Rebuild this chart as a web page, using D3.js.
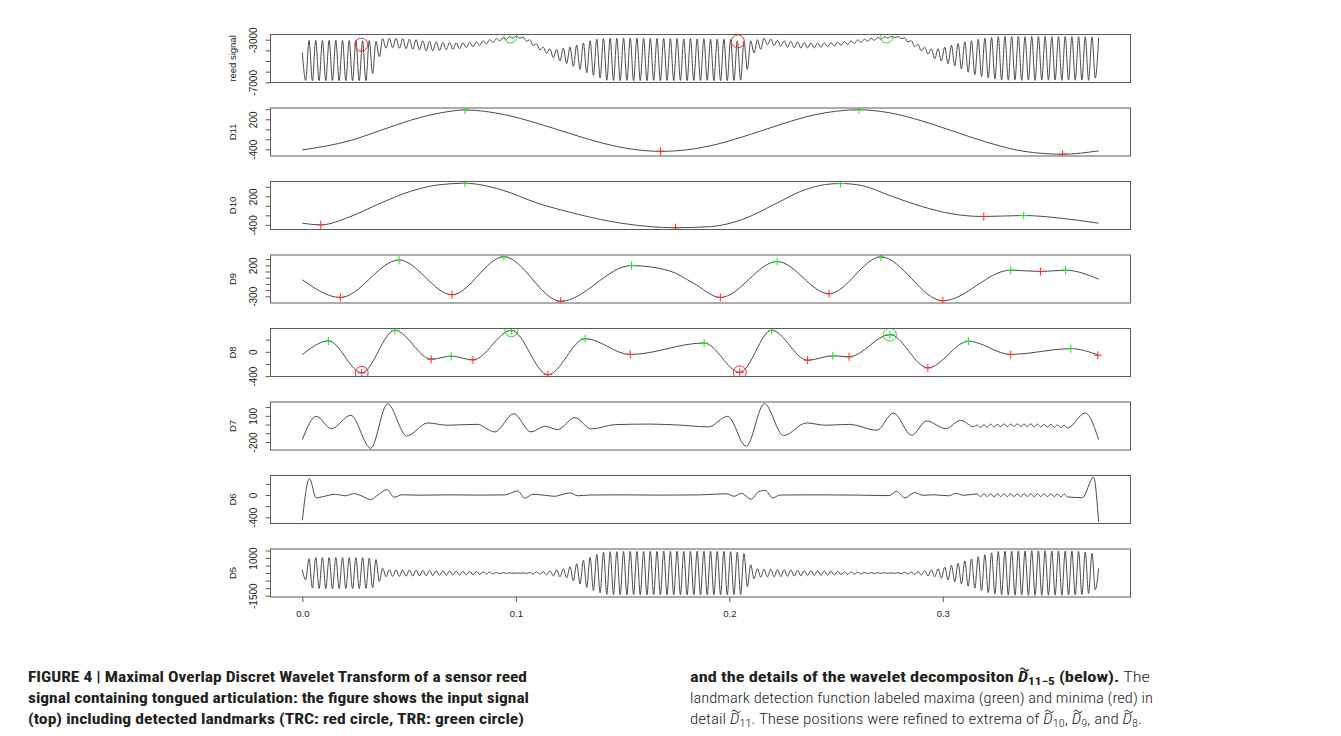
<!DOCTYPE html>
<html>
<head>
<meta charset="utf-8">
<script src="https://cdn.jsdelivr.net/npm/d3@7/dist/d3.min.js"></script>
<style>
html,body{margin:0;padding:0;background:#ffffff;}
svg{display:block;}
</style>
</head>
<body>
<svg id="fig" width="1341" height="736"></svg>
<script>
// ================= DATA =================
const panelNames = ["reed signal", "D11", "D10", "D9", "D8", "D7", "D6", "D5"];
const signalEnd = 0.3730;                 // seconds, last sample
const sampleCount = 239;                  // extrema samples of the dense signals
const sampleStep = signalEnd / (sampleCount - 1);

// reed signal: successive extrema (peak / trough) values
const reedSignal = [
 -4215,-6830,-3070,-6850,-3060,-6840,-3080,-6850,-3060,-6830,-3070,-6850,-3060,-6840,-3080,-6850,-3070,-6830,-3100,-6850,
 -3080,-6200,-3150,-4600,-2900,-3800,-2850,-3750,-2880,-3800,-2900,-3850,-2950,-3900,-3000,-3950,-3100,-4050,-3150,-4050,
 -3200,-4000,-3250,-3950,-3280,-3900,-3300,-3850,-3300,-3750,-3250,-3650,-3200,-3550,-3100,-3400,-3000,-3250,-2900,-3100,
 -2800,-2950,-2720,-2850,-2680,-2850,-2780,-3150,-3000,-3550,-3400,-3950,-3700,-4300,-3850,-4700,-3900,-5000,-3800,-5250,
 -3700,-5500,-3500,-5800,-3300,-6100,-3100,-6350,-2950,-6600,-2880,-6800,-2860,-6830,-2880,-6840,-2850,-6820,-2870,-6850,
 -2860,-6830,-2880,-6840,-2870,-6820,-2890,-6850,-2880,-6830,-2900,-6840,-2890,-6820,-2920,-6850,-2900,-6830,-2930,-6840,
 -2920,-6820,-2950,-6850,-2940,-6830,-2960,-6840,-2980,-6820,-3100,-6800,-3150,-5800,-3100,-4250,-3000,-3900,-2880,-3480,
 -2950,-3550,-3050,-3620,-3100,-3700,-3150,-3760,-3200,-3780,-3250,-3780,-3300,-3770,-3310,-3720,-3300,-3650,-3290,-3600,
 -3250,-3520,-3180,-3450,-3100,-3350,-3020,-3250,-2950,-3150,-2870,-3050,-2800,-2950,-2730,-2850,-2690,-2800,-2720,-2880,
 -2850,-3200,-3100,-3650,-3450,-4050,-3700,-4350,-3850,-4800,-3850,-5000,-3700,-5250,-3500,-5450,-3350,-5750,-3200,-6050,
 -3100,-6300,-2950,-6450,-2850,-6600,-2780,-6700,-2720,-6780,-2700,-6800,-2710,-6760,-2700,-6810,-2720,-6780,-2700,-6820,
 -2710,-6770,-2700,-6800,-2720,-6780,-2710,-6810,-2700,-6790,-2720,-6800,-2710,-6780,-2720,-6810,-2730,-6600,-2820
];

// D5 detail: successive extrema values
const d5Signal = [
 220,-450,950,-1000,1030,-1020,1040,-1030,1030,-1040,1030,-1030,1040,-1030,1030,-1040,1020,-1030,1020,-1010,
 1000,-980,900,-560,330,-240,230,-225,220,-215,215,-210,205,-200,195,-190,185,-180,175,-170,
 160,-155,150,-145,140,-135,130,-125,120,-115,110,-105,100,-95,85,-75,65,-55,48,-40,
 33,-28,22,-18,15,-14,20,-30,45,-60,75,-90,105,-120,150,-190,220,-250,280,-320,
 420,-520,620,-720,850,-950,1050,-1150,1250,-1320,1380,-1410,1420,-1430,1420,-1440,1430,-1440,1440,-1430,
 1440,-1450,1430,-1440,1450,-1440,1440,-1450,1450,-1440,1440,-1450,1450,-1440,1440,-1450,1440,-1440,1450,-1450,
 1440,-1440,1450,-1440,1440,-1450,1430,-1440,1420,-1430,1400,-1420,1300,-900,550,-380,300,-270,265,-260,
 255,-250,245,-240,230,-220,210,-200,190,-185,180,-175,170,-165,155,-150,145,-135,125,-120,
 110,-100,90,-85,80,-70,60,-55,45,-40,35,-30,25,-20,18,-15,15,-25,35,-45,
 55,-65,75,-85,100,-130,160,-190,220,-250,290,-340,400,-460,520,-580,650,-720,800,-870,
 940,-1000,1080,-1150,1220,-1290,1350,-1400,1430,-1440,1450,-1460,1460,-1470,1470,-1460,1470,-1470,1480,-1470,
 1470,-1470,1480,-1470,1470,-1460,1470,-1470,1460,-1460,1450,-1450,1440,-1430,1400,-1350,1300,-1100,300
];

// smooth details: [time, value]
const d11Curve = [[0,-412],[0.0227,-222],[0.0368,-20],[0.0508,182],[0.065,330],[0.0762,386],
 [0.095,290],[0.11,120],[0.125,-80],[0.14,-270],[0.155,-400],[0.1678,-440],
 [0.18,-410],[0.195,-290],[0.21,-100],[0.225,110],[0.24,290],[0.2607,390],
 [0.275,330],[0.29,170],[0.305,-40],[0.32,-250],[0.338,-440],[0.3561,-498],[0.3730,-430]];
const d10Curve = [[0,-366],[0.0086,-400],[0.0227,-223],[0.0368,59],[0.0508,307],[0.065,448],[0.0762,474],
 [0.0931,339],[0.11,59],[0.1269,-154],[0.1494,-366],[0.1635,-440],[0.1748,-461],
 [0.1916,-436],[0.2056,-295],[0.2224,59],[0.2336,307],[0.2451,448],[0.2521,469],
 [0.262,427],[0.2761,200],[0.2901,-13],[0.3042,-168],[0.3192,-225],[0.3379,-204],[0.3549,-259],[0.3730,-366]];
const d9Curve = [[0,-34],[0.0178,-318],[0.0453,285],[0.0701,-274],[0.0944,337],[0.121,-379],[0.1542,195],
 [0.172,110],[0.1832,-87],[0.1958,-318],[0.2224,260],[0.2467,-258],[0.271,334],[0.3,-371],
 [0.3318,121],[0.3458,100],[0.3575,121],[0.3730,-24]];
const d8Curve = [[0,-44],[0.0123,178],[0.0278,-346],[0.0433,354],[0.0604,-122],[0.0697,-72],[0.0799,-132],
 [0.0979,353],[0.115,-377],[0.1325,216],[0.1536,-44],[0.1882,145],[0.2049,-338],[0.2198,354],
 [0.2366,-138],[0.2485,-66],[0.2561,-82],[0.2752,282],[0.293,-264],[0.3121,173],[0.3318,-44],
 [0.36,53],[0.3730,-56]];
const d7Curve = [[0,-173],[0.0065,94],[0.0136,-48],[0.0227,106],[0.032,-272],[0.0399,238],[0.0489,-131],
 [0.0587,18],[0.0678,-8],[0.0818,2],[0.0902,-85],[0.099,124],[0.1071,-85],[0.1136,-20],[0.1195,-58],
 [0.1277,79],[0.1353,-51],[0.1466,-1],[0.1626,5],[0.1776,-8],[0.1902,-27],[0.1992,94],[0.2079,-249],
 [0.2164,238],[0.2254,-127],[0.2361,18],[0.2451,-8],[0.2564,2],[0.269,-66],[0.2769,132],[0.2854,-124],
 [0.2924,41],[0.3014,-48],[0.3084,48],[0.3145,-27],
 [0.3161,-5],[0.3177,-35],[0.3193,-2],[0.3208,-30],[0.3224,5],[0.324,-28],[0.3255,2],[0.3271,-25],
 [0.3287,8],[0.3302,-25],[0.3318,5],[0.3334,-22],[0.3349,8],[0.3365,-22],[0.3381,5],[0.3396,-25],
 [0.3412,8],[0.3428,-25],[0.3443,5],[0.3459,-28],[0.3475,0],[0.349,-30],[0.3506,2],[0.3522,-32],
 [0.3537,-5],[0.3553,-35],[0.3569,-8],[0.3584,-40],[0.3667,132],[0.3730,-173]];
const d6Curve = [[0,-451],[0.0033,295],[0.0065,-52],[0.0093,-32],[0.0154,13],[0.0201,-14],[0.0241,25],
 [0.0271,-5],[0.032,-81],[0.0355,4],[0.0396,97],[0.043,-39],[0.0467,4],[0.0551,-3],[0.0692,3],
 [0.0832,-2],[0.0949,2],[0.1009,74],[0.1042,-57],[0.1079,13],[0.1136,-5],[0.1182,-23],[0.1215,7],
 [0.1255,38],[0.129,-14],[0.1346,0],[0.1486,3],[0.1673,-2],[0.186,2],[0.1986,22],[0.2023,-23],
 [0.2056,31],[0.2103,-75],[0.2136,56],[0.2168,84],[0.2203,-52],[0.2238,0],[0.2421,3],[0.2607,-2],
 [0.2748,-11],[0.2783,66],[0.2822,-52],[0.2868,43],[0.2907,-5],[0.2958,4],[0.3028,-14],[0.3061,31],
 [0.3098,-5],
 [0.3161,20],[0.3177,-30],[0.3193,22],[0.3208,-28],[0.3224,20],[0.324,-30],[0.3255,22],[0.3271,-28],
 [0.3287,20],[0.3302,-30],[0.3318,22],[0.3334,-28],[0.3349,20],[0.3365,-30],[0.3381,22],[0.3396,-28],
 [0.3412,20],[0.3428,-30],[0.3443,22],[0.3459,-28],[0.3475,20],[0.349,-30],[0.3506,22],[0.3522,-28],
 [0.3537,20],[0.3553,-30],[0.3569,15],[0.3584,-35],[0.3654,-47],[0.3706,318],[0.3730,-479]];

// landmarks
const reedTRC = [[0.0276,-3470],[0.2040,-3160]];   // red circles
const reedTRR = [[0.0975,-2700],[0.2737,-2700]];   // green circles
const d11Maxima = [[0.0762,386],[0.2607,390]];
const d11Minima = [[0.1678,-440],[0.3561,-498]];
const d10Maxima = [[0.0762,474],[0.2521,469],[0.3379,-204]];
const d10Minima = [[0.0086,-400],[0.1748,-461],[0.3192,-225]];
const d9Maxima = [[0.0453,285],[0.0944,337],[0.1542,195],[0.2224,260],[0.271,334],[0.3318,121],[0.3575,121]];
const d9Minima = [[0.0178,-318],[0.0701,-274],[0.121,-379],[0.1958,-318],[0.2467,-258],[0.3,-371],[0.3458,100]];
const d8Maxima = [[0.0123,178],[0.0433,354],[0.0697,-72],[0.0979,353],[0.1325,216],[0.1882,145],[0.2198,354],
 [0.2485,-66],[0.2752,282],[0.3121,173],[0.36,53]];
const d8Minima = [[0.0278,-346],[0.0604,-122],[0.0799,-132],[0.115,-377],[0.1536,-44],[0.2049,-338],[0.2366,-138],
 [0.2561,-82],[0.293,-264],[0.3318,-44],[0.3726,-56]];
const d8TRC = [[0.0278,-346],[0.2049,-338]];
const d8TRR = [[0.0979,353],[0.2752,282]];

// axis ticks
const reedTicks = [-7000,-6000,-5000,-4000,-3000], reedTickLabels = [-7000,-3000];
const d11Ticks = [-400,-200,0,200,400], d11TickLabels = [-400,200];
const d10Ticks = [-400,-200,0,200,400], d10TickLabels = [-400,200];
const d9Ticks = [-300,-200,-100,0,100,200,300], d9TickLabels = [-300,200];
const d8Ticks = [-400,-200,0,200], d8TickLabels = [-400,0];
const d7Ticks = [-200,-100,0,100,200], d7TickLabels = [-200,100];
const d6Ticks = [-400,-200,0,200], d6TickLabels = [-400,0];
const d5Ticks = [-1500,-1000,-500,0,500,1000,1500], d5TickLabels = [-1500,1000];
const xTicks = [0,0.1,0.2,0.3];
const xTickLabels = ["0.0","0.1","0.2","0.3"];

// caption text
const captionLeftLines = [
 "FIGURE 4 | Maximal Overlap Discret Wavelet Transform of a sensor reed",
 "signal containing tongued articulation: the figure shows the input signal",
 "(top) including detected landmarks (TRC: red circle, TRR: green circle)"
];

// ================= DRAWING =================
const svg = d3.select("#fig");
const plotLeft = 270.5, plotRight = 1130.5, firstTop = 34.5, panelStep = 73.5, plotH = 48;
const pad = ([a, b]) => { const r = b - a; return [a - 0.04 * r, b + 0.04 * r]; };
const x = d3.scaleLinear().domain(pad([0, signalEnd])).range([plotLeft, plotRight]);
const lineCol = "#4a4a4a", boxCol = "#5a5a5a", textCol = "#222";
const green = "#22dd22", red = "#ff2a2a";
const axisFont = "'Liberation Sans', Arial, Helvetica, sans-serif";

const panels = [
 {pts: reedSignal.map((v,i)=>[i*sampleStep, v]), ticks: reedTicks, labels: reedTickLabels, max: [], min: [], trc: reedTRC, trr: reedTRR},
 {pts: d11Curve, ticks: d11Ticks, labels: d11TickLabels, max: d11Maxima, min: d11Minima, trc: [], trr: []},
 {pts: d10Curve, ticks: d10Ticks, labels: d10TickLabels, max: d10Maxima, min: d10Minima, trc: [], trr: []},
 {pts: d9Curve, ticks: d9Ticks, labels: d9TickLabels, max: d9Maxima, min: d9Minima, trc: [], trr: []},
 {pts: d8Curve, ticks: d8Ticks, labels: d8TickLabels, max: d8Maxima, min: d8Minima, trc: d8TRC, trr: d8TRR},
 {pts: d7Curve, ticks: d7Ticks, labels: d7TickLabels, max: [], min: [], trc: [], trr: []},
 {pts: d6Curve, ticks: d6Ticks, labels: d6TickLabels, max: [], min: [], trc: [], trr: []},
 {pts: d5Signal.map((v,i)=>[i*sampleStep, v]), ticks: d5Ticks, labels: d5TickLabels, max: [], min: [], trc: [], trr: []}
];

const defs = svg.append("defs");

panels.forEach((p, k) => {
  const top = firstTop + k * panelStep;
  const y = d3.scaleLinear().domain(pad(d3.extent(p.pts, d => d[1]))).range([top + plotH, top]);
  const g = svg.append("g");
  defs.append("clipPath").attr("id", "clip" + k).append("rect")
    .attr("x", plotLeft).attr("y", top).attr("width", plotRight - plotLeft).attr("height", plotH);
  const inner = g.append("g").attr("clip-path", `url(#clip${k})`);

  inner.append("path").datum(p.pts)
    .attr("d", d3.line().x(d => x(d[0])).y(d => y(d[1])).curve(d3.curveMonotoneX))
    .attr("fill", "none").attr("stroke", lineCol).attr("stroke-width", 1);

  const plus = (arr, col) => inner.selectAll(null).data(arr).enter().append("path")
    .attr("d", d => `M${x(d[0])-4},${y(d[1])}H${x(d[0])+4}M${x(d[0])},${y(d[1])-4}V${y(d[1])+4}`)
    .attr("stroke", col).attr("stroke-width", 1).attr("fill", "none");
  plus(p.max, green);
  plus(p.min, red);
  const circ = (arr, col) => inner.selectAll(null).data(arr).enter().append("circle")
    .attr("cx", d => x(d[0])).attr("cy", d => y(d[1])).attr("r", 6.5)
    .attr("fill", "none").attr("stroke", col).attr("stroke-width", 1);
  circ(p.trc, red);
  circ(p.trr, green);

  g.append("rect").attr("x", plotLeft).attr("y", top).attr("width", plotRight - plotLeft).attr("height", plotH)
    .attr("fill", "none").attr("stroke", boxCol).attr("stroke-width", 1);

  // y axis (R style: labels parallel to the axis)
  const ax = g.append("g").attr("transform", `translate(${plotLeft},0)`)
    .call(d3.axisLeft(y).tickValues(p.ticks).tickSize(5).tickSizeOuter(0)
      .tickFormat(d => p.labels.includes(d) ? String(d) : ""));
  ax.select(".domain").remove();
  ax.selectAll(".tick line").attr("stroke", boxCol);
  ax.selectAll(".tick text").attr("x", null).attr("dy", null).attr("text-anchor", "middle")
    .attr("transform", "translate(-13.5,0) rotate(-90)")
    .attr("font-family", axisFont).attr("font-size", 10).attr("fill", textCol);

  g.append("text").attr("transform", `translate(235.5,${top + plotH / 2}) rotate(-90)`)
    .attr("text-anchor", "middle").attr("font-family", axisFont).attr("font-size", 9.5)
    .attr("fill", textCol).text(panelNames[k]);

  if (k === panels.length - 1) {
    const xa = g.append("g").attr("transform", `translate(0,${top + plotH})`)
      .call(d3.axisBottom(x).tickValues(xTicks).tickSize(5).tickSizeOuter(0)
        .tickFormat((d, i) => xTickLabels[i]));
    xa.select(".domain").remove();
    xa.selectAll(".tick line").attr("stroke", boxCol);
    xa.selectAll(".tick text").attr("font-family", axisFont).attr("font-size", 9.5)
      .attr("fill", textCol).attr("dy", null).attr("y", 20);
  }
});

// ================= CAPTION =================
const capFont = "'Liberation Sans Narrow','Arial Narrow','Roboto Condensed','Liberation Sans',Arial,sans-serif";
const capG = svg.append("g").attr("font-family", capFont).attr("font-size", 14.5).attr("fill", "#231f20");
const leftWidths = [499, 501, 496];
captionLeftLines.forEach((line, i) => {
  capG.append("text").attr("x", 28).attr("y", 682 + i * 21).attr("font-weight", "bold")
    .attr("textLength", leftWidths[i]).attr("lengthAdjust", "spacingAndGlyphs").text(line);
});

function richLine(yPos, width, parts) {
  const t = capG.append("text").attr("x", 690).attr("y", yPos)
    .attr("textLength", width).attr("lengthAdjust", "spacingAndGlyphs");
  const tildeIdx = [];
  let idx = 0;
  parts.forEach(p => {
    const s = t.append("tspan").text(p.t);
    if (p.b) s.attr("font-weight", "bold"); else s.attr("font-weight", "300");
    if (p.i) s.attr("font-style", "italic");
    if (p.sub) s.attr("font-size", 10.5).attr("dy", 3);
    if (p.up) s.attr("dy", -3);
    if (p.tilde) tildeIdx.push({i: idx, b: !!p.b});
    idx += p.t.length;
  });
  const node = t.node();
  tildeIdx.forEach(o => {
    const e = node.getExtentOfChar(o.i);
    const cx = e.x + e.width / 2 + 1.4, ty = e.y - 0.8;
    capG.append("path")
      .attr("d", `M${cx - 4.2},${ty + 1.2} q2.1,-2.6 4.2,0 t4.2,0`)
      .attr("fill", "none").attr("stroke", "#231f20").attr("stroke-width", o.b ? 1.4 : 1);
  });
}
richLine(682, 460, [
  {t: "and the details of the wavelet decompositon ", b: true},
  {t: "D", b: true, i: true, tilde: true},
  {t: "11\u22125", b: true, sub: true},
  {t: " (below).", b: true, up: true},
  {t: " The"}
]);
richLine(703, 463, [{t: "landmark detection function labeled maxima (green) and minima (red) in"}]);
richLine(724, 452, [
  {t: "detail "}, {t: "D", i: true, tilde: true}, {t: "11", sub: true},
  {t: ". These positions were refined to extrema of ", up: true},
  {t: "D", i: true, tilde: true}, {t: "10", sub: true}, {t: ", ", up: true},
  {t: "D", i: true, tilde: true}, {t: "9", sub: true}, {t: ", and ", up: true},
  {t: "D", i: true, tilde: true}, {t: "8", sub: true}, {t: ".", up: true}
]);
</script>
</body>
</html>
